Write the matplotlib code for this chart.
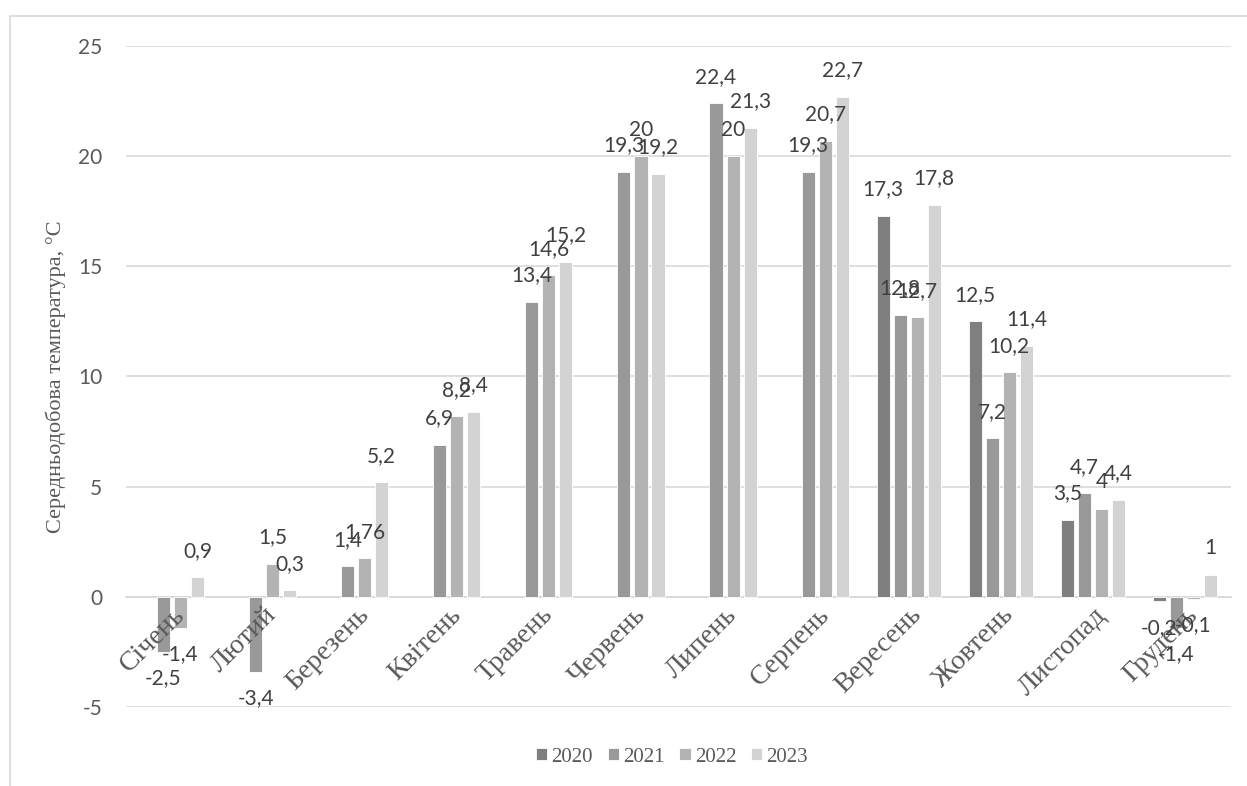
import numpy as np
import matplotlib
matplotlib.use("Agg")
import matplotlib.pyplot as plt
from matplotlib.transforms import ScaledTranslation
from matplotlib.patches import Rectangle

# --------------------------------------------------------
# Data
# --------------------------------------------------------
months = ["Січень", "Лютий", "Березень", "Квітень", "Травень", "Червень",
          "Липень", "Серпень", "Вересень", "Жовтень", "Листопад", "Грудень"]
years = ["2020", "2021", "2022", "2023"]

t2020 = [np.nan, np.nan, np.nan, np.nan, np.nan, np.nan, np.nan, np.nan, 17.3, 12.5, 3.5, -0.2]
t2021 = [-2.5, -3.4, 1.4, 6.9, 13.4, 19.3, 22.4, 19.3, 12.8, 7.2, 4.7, -1.4]
t2022 = [-1.4, 1.5, 1.76, 8.2, 14.6, 20, 20, 20.7, 12.7, 10.2, 4, -0.1]
t2023 = [0.9, 0.3, 5.2, 8.4, 15.2, 19.2, 21.3, 22.7, 17.8, 11.4, 4.4, 1]

series = [t2020, t2021, t2022, t2023]
colors = ["#7f7f7f", "#999999", "#b3b3b3", "#d3d3d3"]

# --------------------------------------------------------
# Figure
# --------------------------------------------------------
serif = "Liberation Serif"
sans = "Lato"

fig = plt.figure(figsize=(12.47, 7.86), dpi=100)
ax = fig.add_axes([126 / 1247, 1 - 707 / 786, (1231 - 126) / 1247, (707 - 46) / 786])

# chart border
fig.patches.append(Rectangle((10 / 1247, -0.05), 1.2, 1 - 16 / 786 + 0.05,
                             transform=fig.transFigure, fill=False,
                             edgecolor="#d9d9d9", linewidth=1.2))

x = np.arange(len(months))
step = 0.185
width = 0.142

for i, (vals, col, yr) in enumerate(zip(series, colors, years)):
    pos = x + (i - 1.5) * step
    vals = np.array(vals, dtype=float)
    ax.bar(pos, vals, width=width, color=col, edgecolor="white",
           linewidth=0.6, label=yr, zorder=3)
    for px, v in zip(pos, vals):
        if np.isnan(v):
            continue
        txt = f"{v:g}".replace(".", ",")
        off = 19 if v >= 0 else -19
        ax.annotate(txt, (px, v), xytext=(0, off), textcoords="offset points",
                    ha="center", va="center", fontsize=15, family=sans,
                    color="#404040", zorder=6)

ax.set_xlim(-0.5, len(months) - 0.5)
ax.set_ylim(-5, 25)
ax.set_yticks(range(-5, 26, 5))
ax.set_yticklabels([str(v) for v in range(-5, 26, 5)], family=sans,
                   fontsize=15, color="#595959")
ax.yaxis.grid(True, color="#d9d9d9", linewidth=1.2, zorder=0)
ax.set_axisbelow(True)

for s in ["top", "right", "left"]:
    ax.spines[s].set_visible(False)
ax.spines["bottom"].set_position(("data", 0))
ax.spines["bottom"].set_color("#d9d9d9")
ax.spines["bottom"].set_linewidth(1.2)
ax.spines["bottom"].set_zorder(2)
ax.tick_params(axis="both", length=0)
ax.tick_params(axis="y", pad=17)

ax.set_xticks(x)
ax.set_xticklabels(months, rotation=45, ha="right", rotation_mode="anchor",
                   family=serif, fontsize=20, color="#595959")
shift = ScaledTranslation(12 / 100, 0, fig.dpi_scale_trans)
for lab in ax.get_xticklabels():
    lab.set_transform(lab.get_transform() + shift)
ax.tick_params(axis="x", pad=4)
ax.xaxis.set_zorder(5)   # month names sit over the bars

ax.set_ylabel("Середньодобова температура, °C", family=serif, fontsize=16,
              color="#595959")
ax.yaxis.set_label_coords((66 - 126) / 1105, 0.5)

leg = ax.legend(loc="center", bbox_to_anchor=(672 / 1247, 1 - 757 / 786),
                bbox_transform=fig.transFigure, ncol=4, frameon=False,
                prop={"family": serif, "size": 15}, handlelength=0.55,
                handleheight=0.55, handletextpad=0.2, columnspacing=0.7)
for t in leg.get_texts():
    t.set_color("#595959")

fig.savefig("out.png", dpi=100)
